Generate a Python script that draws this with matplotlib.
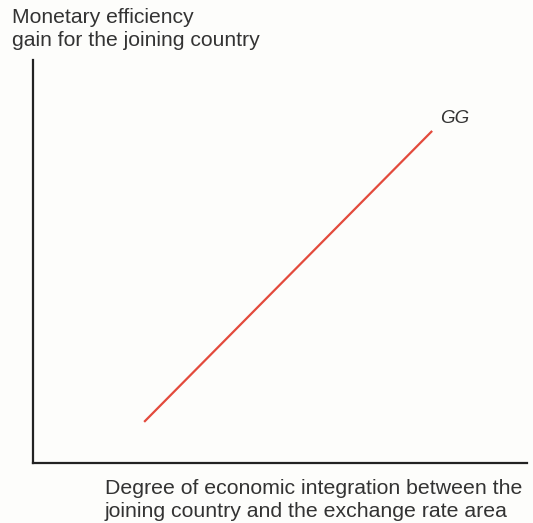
import matplotlib.pyplot as plt

# GG schedule: monetary efficiency gain rises with economic integration
integration = [2.25, 8.08]
efficiency_gain = [1.02, 8.24]

y_title = 'Monetary efficiency\ngain for the joining country'
x_title = 'Degree of economic integration between the\njoining country and the exchange rate area'
curve_label = 'GG'

plt.rcParams['font.family'] = ['Liberation Sans', 'DejaVu Sans']

fig = plt.figure(figsize=(5.33, 5.23), dpi=100)
fig.patch.set_facecolor('#fdfdfb')
ax = fig.add_axes([33 / 533, 60 / 523, (527 - 33) / 533, (463 - 60) / 523])
ax.set_facecolor('#fdfdfb')

ax.plot(integration, efficiency_gain, color='#e34a3c', lw=1.6, solid_capstyle='butt')
ax.text(integration[1] + 0.16, efficiency_gain[1] + 0.1, curve_label, fontsize=13.5,
        style='italic', color='#333333', ha='left', va='bottom')

ax.set_xlim(0, 10)
ax.set_ylim(0, 10)
ax.set_xticks([])
ax.set_yticks([])
for side in ['top', 'right']:
    ax.spines[side].set_visible(False)
for side in ['left', 'bottom']:
    ax.spines[side].set_linewidth(1.6)
    ax.spines[side].set_color('#222222')

fig.text(12 / 533, 1 - 8 / 523, y_title, fontsize=15.2, color='#333333',
         ha='left', va='top', linespacing=1.28)
fig.text(105 / 533, 1 - 479 / 523, x_title, fontsize=15.3, color='#333333',
         ha='left', va='top', linespacing=1.25)

fig.savefig('out.png', dpi=100, facecolor=fig.get_facecolor())
